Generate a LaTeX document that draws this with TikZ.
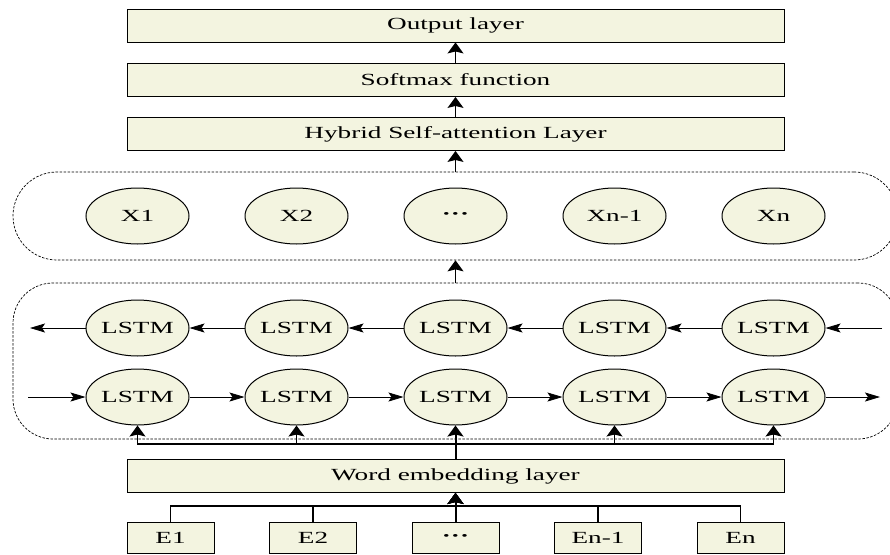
\documentclass[tikz,border=0pt]{standalone}
\usepackage{fontspec}
\setmainfont[FakeStretch=1.6]{Liberation Serif}
\usepackage{tikz}
\usetikzlibrary{arrows.meta,shapes.geometric,positioning}

\definecolor{cellfill}{HTML}{F3F4E0}

\tikzset{
	txt/.style={font=\fontsize{17}{20}\selectfont},
	layer/.style={txt, draw, fill=cellfill, line width=0.9pt, minimum width=657pt, minimum height=33pt, inner sep=0pt},
	cell/.style={txt, draw, ellipse, fill=cellfill, line width=1pt, minimum width=103pt, minimum height=56pt, inner sep=0pt},
	token/.style={txt, draw, fill=cellfill, line width=0.9pt, minimum width=87pt, minimum height=31pt, inner sep=0pt},
	group/.style={draw, dash pattern=on 2.5pt off 1.5pt, line width=0.7pt, minimum width=885pt, inner sep=0pt},
	harrow/.style={-{Stealth[length=15pt,width=9pt,inset=3pt]}, line width=0.8pt},
	varrow/.style={-{Stealth[length=11pt,width=16pt,inset=2pt]}, line width=1.1pt},
	trunk/.style={varrow, line width=2pt}
}

\begin{document}
\begin{tikzpicture}[x=1pt, y=-1pt]
	\useasboundingbox (0,0) rectangle (890,554);

	\node[layer] (out) at (455.5,25.5) {Output layer};
	\node[layer] (soft) at (455.5,80) {Softmax function};
	\node[layer] (hsa) at (455.5,134) {Hybrid Self-attention Layer};

	\node[group, minimum height=88pt, rounded corners=44pt] (hid) at (455.5,216) {};
	\node[group, minimum height=156pt, rounded corners=40pt] (bilstm) at (455.5,361) {};

	\node[cell] (x1) at (137.5,216) {X1};
	\node[cell] (x2) at (296.5,216) {X2};
	\node[cell] (x3) at (455.5,216) {\bfseries ···};
	\node[cell] (x4) at (614.5,216) {Xn-1};
	\node[cell] (x5) at (773.5,216) {Xn};

	\node[cell] (bw1) at (137.5,328) {LSTM};
	\node[cell] (bw2) at (296.5,328) {LSTM};
	\node[cell] (bw3) at (455.5,328) {LSTM};
	\node[cell] (bw4) at (614.5,328) {LSTM};
	\node[cell] (bw5) at (773.5,328) {LSTM};

	\node[cell] (fw1) at (137.5,397) {LSTM};
	\node[cell] (fw2) at (296.5,397) {LSTM};
	\node[cell] (fw3) at (455.5,397) {LSTM};
	\node[cell] (fw4) at (614.5,397) {LSTM};
	\node[cell] (fw5) at (773.5,397) {LSTM};

	\node[layer] (emb) at (455.5,476) {Word embedding layer};

	\node[token] (e1) at (170.5,537.5) {E1};
	\node[token] (e2) at (313,537.5) {E2};
	\node[token] (e3) at (455.5,537.5) {\bfseries ···};
	\node[token] (e4) at (598,537.5) {En-1};
	\node[token] (e5) at (740.5,537.5) {En};

	\coordinate (bin) at (882,328);
	\coordinate (bout) at (30,328);
	\coordinate (fin) at (28,397);
	\coordinate (fout) at (880,397);
	\coordinate (ubus) at (455.5,444);
	\coordinate (lbus) at (455.5,506);

	\draw[varrow] (soft) -- (out);
	\draw[varrow] (hsa) -- (soft);
	\draw[varrow] (hid) -- (hsa);
	\draw[varrow] (bilstm) -- (hid);

	\draw[harrow] (bin) -- (bw5);
	\draw[harrow] (bw5) -- (bw4);
	\draw[harrow] (bw4) -- (bw3);
	\draw[harrow] (bw3) -- (bw2);
	\draw[harrow] (bw2) -- (bw1);
	\draw[harrow] (bw1) -- (bout);

	\draw[harrow] (fin) -- (fw1);
	\draw[harrow] (fw1) -- (fw2);
	\draw[harrow] (fw2) -- (fw3);
	\draw[harrow] (fw3) -- (fw4);
	\draw[harrow] (fw4) -- (fw5);
	\draw[harrow] (fw5) -- (fout);

	\draw[varrow] (emb.north) -- (ubus) -| (fw1.south);
	\draw[varrow] (emb.north) -- (ubus) -| (fw2.south);
	\draw[varrow] (emb.north) -- (ubus) -| (fw4.south);
	\draw[varrow] (emb.north) -- (ubus) -| (fw5.south);
	\draw[trunk] (emb) -- (fw3);

	\draw[varrow] (e1.north) |- (lbus) -- (emb.south);
	\draw[varrow] (e2.north) |- (lbus) -- (emb.south);
	\draw[varrow] (e4.north) |- (lbus) -- (emb.south);
	\draw[varrow] (e5.north) |- (lbus) -- (emb.south);
	\draw[trunk] (e3) -- (emb);
\end{tikzpicture}
\end{document}
